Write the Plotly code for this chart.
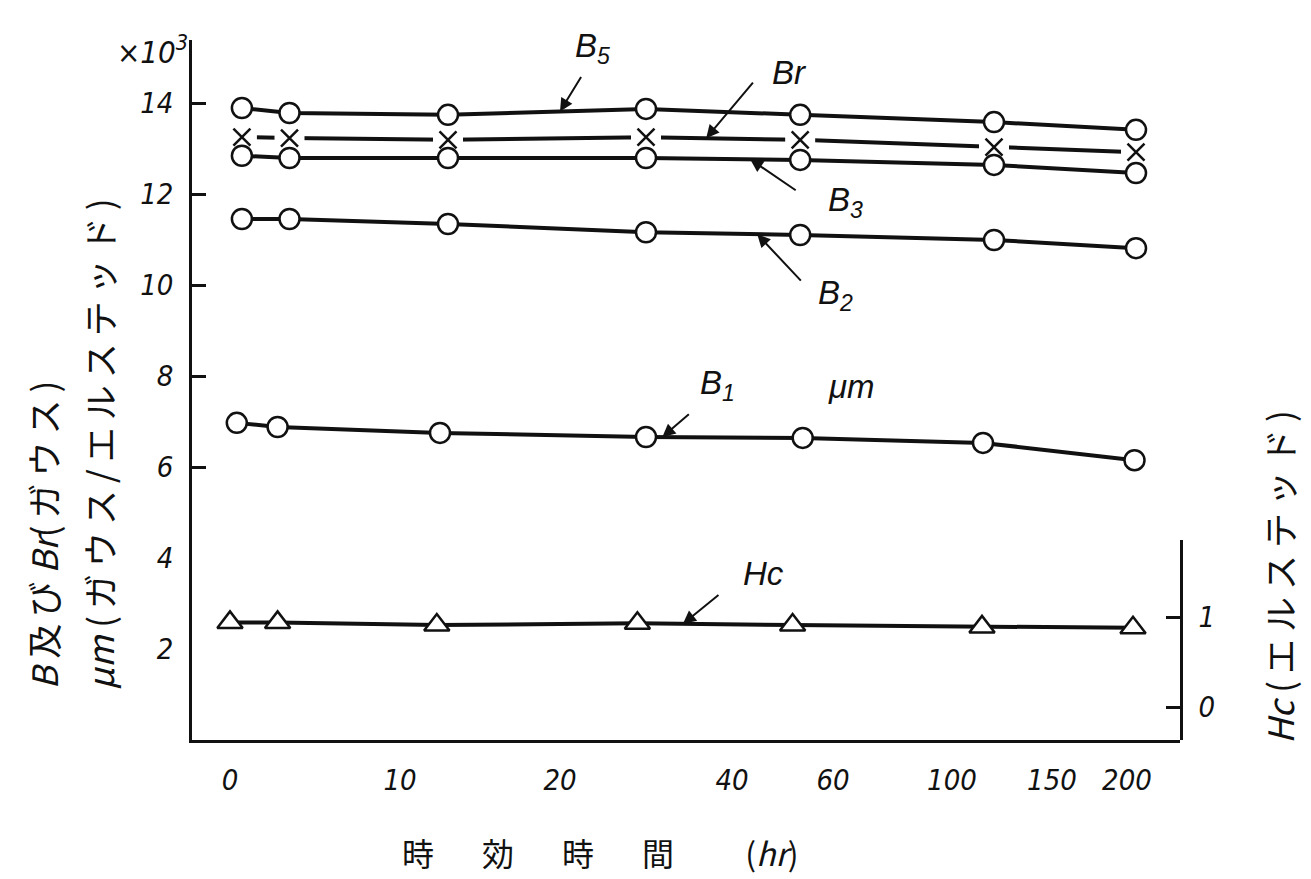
import numpy as np
import plotly.graph_objects as go

# ---------------- data ----------------
# hand-drawn, non-linear time axis (hours) and the relative spacing of its ticks
TICK_HOURS = [0, 10, 20, 40, 60, 100, 150, 200]
TICK_LABELS = ["0", "10", "20", "40", "60", "100", "150", "200"]
TICK_SCALE = [0, 170, 330, 502, 603, 722, 822, 897]

# ageing time of each measurement (hr)
hours_B = [0.7, 3.5, 13, 30, 53.5, 121, 206]       # B5, Br, B3, B2
hours_B1 = [0.4, 2.8, 12.5, 30, 54, 115.5, 205]    # B1 / μm
hours_Hc = [0, 2.8, 12.3, 29, 52, 115, 204]         # Hc

# flux densities (x10^3 gauss) and permeability
B5 = [13.89, 13.78, 13.74, 13.87, 13.74, 13.58, 13.41]
Br = [13.25, 13.23, 13.19, 13.25, 13.19, 13.03, 12.92]
B3 = [12.84, 12.79, 12.79, 12.79, 12.75, 12.64, 12.46]
B2 = [11.45, 11.45, 11.34, 11.16, 11.10, 10.99, 10.81]
B1 = [6.97, 6.88, 6.75, 6.66, 6.64, 6.53, 6.15]
# coercive force (oersted)
Hc = [0.94, 0.94, 0.91, 0.93, 0.91, 0.89, 0.88]

Y_TICKS = [2, 4, 6, 8, 10, 12, 14]
HC_TICKS = [0, 1]


def scale(t):
    """Map hours onto the hand-drawn axis (piecewise linear, extrapolated)."""
    t = np.atleast_1d(np.asarray(t, dtype=float))
    h = np.asarray(TICK_HOURS, float)
    s = np.asarray(TICK_SCALE, float)
    out = np.interp(t, h, s)
    hi = t > h[-1]
    out[hi] = s[-1] + (t[hi] - h[-1]) * (s[-1] - s[-2]) / (h[-1] - h[-2])
    return out


BLACK = "#111111"
TICKFONT = dict(family="Liberation Sans Narrow, DejaVu Sans Condensed, Liberation Sans, sans-serif",
                size=29, color=BLACK, style="italic")
LBLFONT = dict(family="Liberation Sans, DejaVu Sans, sans-serif", size=33, color=BLACK, style="italic")
JPFONT = dict(family="Noto Sans CJK JP, Noto Sans, sans-serif", size=35, color=BLACK)
JPFONT_X = dict(family="Noto Sans CJK JP, Noto Sans, sans-serif", size=32, color=BLACK)

fig = go.Figure()


def circles(hours, vals, name):
    fig.add_trace(go.Scatter(
        x=scale(hours), y=vals, mode="lines+markers", name=name,
        line=dict(color=BLACK, width=4),
        marker=dict(symbol="circle", size=20, color="white", line=dict(color=BLACK, width=2.5)),
        showlegend=False, cliponaxis=False))


# Br : line interrupted at each cross
xb = scale(hours_B)
fig.add_trace(go.Scatter(x=xb, y=Br, mode="lines", line=dict(color=BLACK, width=4),
                         showlegend=False, hoverinfo="skip"))
fig.add_trace(go.Scatter(x=xb, y=Br, mode="markers",
                         marker=dict(symbol="square", size=30, color="white", line=dict(width=0)),
                         showlegend=False, hoverinfo="skip"))

circles(hours_B, B5, "B5")
circles(hours_B, B3, "B3")
circles(hours_B, B2, "B2")
circles(hours_B1, B1, "B1")

fig.add_trace(go.Scatter(x=xb, y=Br, mode="markers", name="Br",
                         marker=dict(symbol="x-thin", size=17, color=BLACK,
                                     line=dict(color=BLACK, width=2.5)),
                         showlegend=False, cliponaxis=False))

fig.add_trace(go.Scatter(
    x=scale(hours_Hc), y=Hc, mode="lines+markers", name="Hc", yaxis="y2",
    line=dict(color=BLACK, width=4),
    marker=dict(symbol="triangle-up", size=22, color="white", line=dict(color=BLACK, width=2.5)),
    showlegend=False, cliponaxis=False))

# ---------------- layout ----------------
OFF = 8                      # page body margin of the html page
W, H = 1311 - OFF, 879 - OFF
PLOT_L, PLOT_R, PLOT_T, PLOT_B = 192, 1180, 40, 740   # screen pixels of the plot box
L, R, T = PLOT_L - OFF, W - (PLOT_R - OFF), PLOT_T - OFF
B = H - (PLOT_B - OFF)
PX_PER_UNIT = 45.5
y_top = (PLOT_B - PLOT_T) / PX_PER_UNIT
hc_dom = 200 / (PLOT_B - PLOT_T)
hc_px = 90.0
hc_lo = -33 / hc_px
hc_hi = hc_lo + 200 / hc_px

axis_common = dict(showline=True, linecolor=BLACK, linewidth=2.5, ticks="inside",
                   ticklen=14, tickwidth=2.5, tickcolor=BLACK, showgrid=False,
                   zeroline=False, tickfont=TICKFONT)

fig.update_layout(
    width=W, height=H, margin=dict(l=L, r=R, t=T, b=B),
    paper_bgcolor="white", plot_bgcolor="white",
    xaxis=dict(range=[-38, 950], tickmode="array", tickvals=TICK_SCALE,
               ticktext=TICK_LABELS, ticklabelstandoff=12, **axis_common),
    yaxis=dict(range=[0, y_top], tickmode="array", tickvals=Y_TICKS,
               ticktext=[str(v) for v in Y_TICKS], ticklabelstandoff=10, **axis_common),
    yaxis2=dict(domain=[0, hc_dom], range=[hc_lo, hc_hi], anchor="x", side="right",
                tickmode="array", tickvals=HC_TICKS, ticktext=[str(v) for v in HC_TICKS],
                ticklabelstandoff=10, **axis_common),
)


def on_line(hours, vals, t):
    xs = scale(hours)
    xt = scale(t)[0]
    return xt, float(np.interp(xt, xs, vals))


# arrows pointing at the curves (head on the curve, tail offset in px)
arrows = [
    (hours_B, B5, 20, 22, -36, "y"),
    (hours_B, Br, 37, 48, -57, "y"),
    (hours_B, B3, 43.6, 47, 32, "y"),
    (hours_B, B2, 45, 45, 48, "y"),
    (hours_B1, B1, 31.9, 28, -24, "y"),
    (hours_Hc, Hc, 34.3, 37, -30, "y2"),
]
for hrs, vals, t, ax, ay, yref in arrows:
    xh, yh = on_line(hrs, vals, t)
    fig.add_annotation(x=xh, y=yh, xref="x", yref=yref, text="", showarrow=True,
                       ax=ax, ay=ay, arrowhead=2, arrowsize=1.3, arrowwidth=2,
                       arrowcolor=BLACK, standoff=0)

# curve labels (axis units)
labels = [
    ("<i>B</i><sub>5</sub>", 362, 15.2),
    ("<i>Br</i>", 559, 14.68),
    ("<i>B</i><sub>3</sub>", 615, 11.82),
    ("<i>B</i><sub>2</sub>", 605, 9.78),
    ("<i>B</i><sub>1</sub>", 487, 7.80),
    ("<i>μm</i>", 621, 7.78),
    ("<i>Hc</i>", 533, 3.67),
]
for txt, x, y in labels:
    fig.add_annotation(x=x, y=y, xref="x", yref="y", text=txt, showarrow=False,
                       font=LBLFONT, xanchor="center", yanchor="middle")

pw, ph = PLOT_R - PLOT_L, PLOT_B - PLOT_T


def px(xp, yp):
    """screen pixel -> paper coordinates"""
    return (xp - PLOT_L) / pw, (PLOT_B - yp) / ph


# x10^3 multiplier
x0, y0 = px(152, 50)
fig.add_annotation(x=x0, y=y0, xref="paper", yref="paper", text="×10<sup>3</sup>",
                   showarrow=False, font=dict(TICKFONT, size=31), xanchor="center",
                   yanchor="middle")

TS = "\u2009"
# left axis titles (two rotated lines)
x1, y1 = px(42, 692)
fig.add_annotation(x=x1, y=y1, xref="paper", yref="paper", textangle=-90,
                   text=f"<i>B</i> 及{TS}び <i>Br</i>({TS}ガ{TS}ウ{TS}ス{TS})",
                   showarrow=False, font=JPFONT, xanchor="center", yanchor="bottom")
x2, y2 = px(98, 692)
fig.add_annotation(x=x2, y=y2, xref="paper", yref="paper", textangle=-90,
                   text=(f"<i>μm</i> ({TS}ガ{TS}ウ{TS}ス{TS}/{TS}エ{TS}ル{TS}ス{TS}テ{TS}ッ"
                         f"{TS}ド{TS})"),
                   showarrow=False, font=JPFONT, xanchor="center", yanchor="bottom")

# right axis title
x3, y3 = px(1278, 746)
fig.add_annotation(x=x3, y=y3, xref="paper", yref="paper", textangle=-90,
                   text=f"<i>Hc</i> ({TS}エ{TS}ル{TS}ス{TS}テ{TS}ッ{TS}ド{TS})",
                   showarrow=False, font=JPFONT, xanchor="center", yanchor="bottom")

# x axis title
x4, y4 = px(400, 852)
fig.add_annotation(x=x4, y=y4, xref="paper", yref="paper",
                   text="時\u3000\u2002効\u3000\u2002時\u3000\u2002間\u3000\u3000 (<i>hr</i>)",
                   showarrow=False, font=JPFONT_X, xanchor="left", yanchor="middle")

fig.write_html("out.html")
